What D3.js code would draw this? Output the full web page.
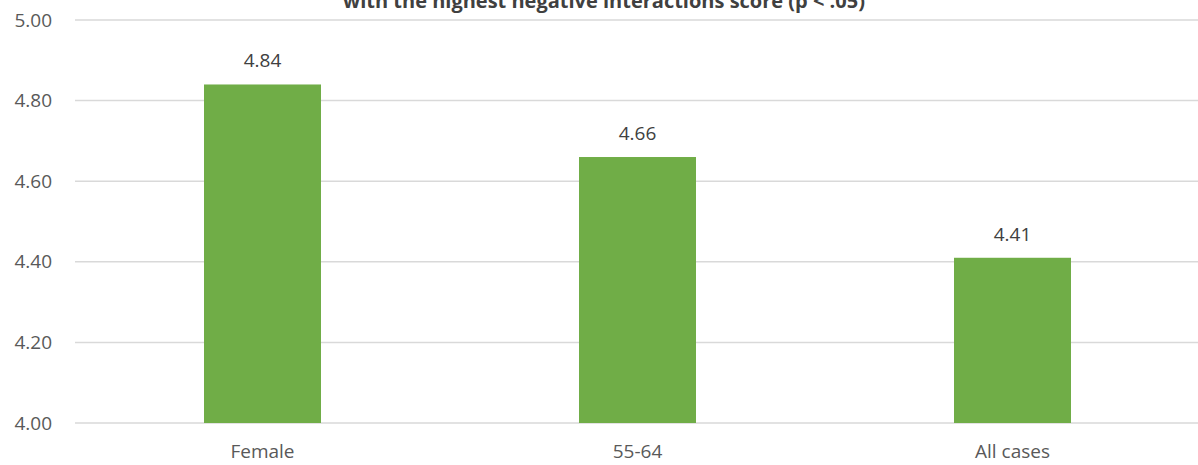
<!DOCTYPE html>
<html>
<head>
<meta charset="utf-8">
<script src="https://cdn.jsdelivr.net/npm/d3@7"></script>
<style>
  html, body { margin: 0; padding: 0; background: #fff; }
  svg { display: block; }
</style>
</head>
<body>
<svg id="chart" width="1198" height="465"></svg>
<script>
const categories = ["Female", "55-64", "All cases"];
const values = [4.84, 4.66, 4.41];
const yTicks = [4.00, 4.20, 4.40, 4.60, 4.80, 5.00];
const titleText = "with the highest negative interactions score (p < .05)";

const svg = d3.select("#chart");
const font = "'Open Sans', 'Liberation Sans', sans-serif";
const textColor = "#595959";
const fs = 19;

const x = d3.scaleBand()
  .domain(categories)
  .range([75, 1200])
  .paddingInner(0.688)
  .paddingOuter(0.344);

const y = d3.scaleLinear()
  .domain([4.0, 5.0])
  .range([423, 20]);

// gridlines
svg.append("g")
  .selectAll("line")
  .data(yTicks)
  .join("line")
  .attr("x1", 75)
  .attr("x2", 1198)
  .attr("y1", d => y(d))
  .attr("y2", d => y(d))
  .attr("stroke", "#d9d9d9")
  .attr("stroke-width", 1.5);

// y axis labels
const yAxis = d3.axisLeft(y).tickValues(yTicks).tickFormat(d3.format(".2f")).tickSize(0).tickPadding(0);
svg.append("g")
  .attr("transform", "translate(52,0)")
  .call(yAxis)
  .call(g => g.select(".domain").remove())
  .call(g => g.selectAll("text")
    .attr("font-family", font)
    .attr("font-size", fs)
    .attr("fill", textColor));

// bars
svg.append("g")
  .selectAll("rect")
  .data(values)
  .join("rect")
  .attr("x", (d, i) => x(categories[i]))
  .attr("width", x.bandwidth())
  .attr("y", d => y(d))
  .attr("height", d => y(4.0) - y(d))
  .attr("fill", "#70ad47");

// value labels
svg.append("g")
  .selectAll("text")
  .data(values)
  .join("text")
  .attr("x", (d, i) => x(categories[i]) + x.bandwidth() / 2)
  .attr("y", d => y(d) - 17)
  .attr("text-anchor", "middle")
  .attr("font-family", font)
  .attr("font-size", fs)
  .attr("fill", "#404040")
  .text(d => d.toFixed(2));

// x axis labels
const xAxis = d3.axisBottom(x).tickSize(0).tickPadding(0);
svg.append("g")
  .attr("transform", "translate(0,444.5)")
  .call(xAxis)
  .call(g => g.select(".domain").remove())
  .call(g => g.selectAll("text")
    .attr("font-family", font)
    .attr("font-size", fs)
    .attr("fill", textColor));

// title (cut off at top)
svg.append("text")
  .attr("x", 604)
  .attr("y", 8)
  .attr("text-anchor", "middle")
  .attr("font-family", font)
  .attr("font-size", 20)
  .attr("font-weight", "bold")
  .attr("fill", "#404040")
  .text(titleText);
</script>
</body>
</html>
